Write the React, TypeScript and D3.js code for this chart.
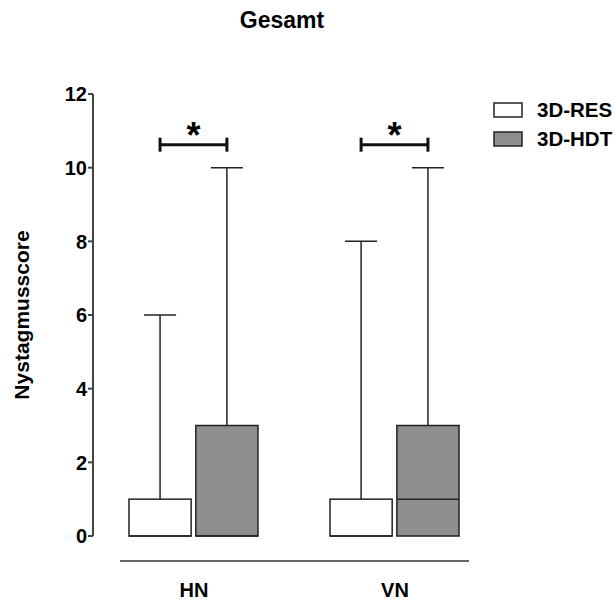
import React from 'react';
import * as d3 from 'd3';

const groups = ['HN', 'VN'];
const seriesNames = ['3D-RES', '3D-HDT'];
// [min, q1, median, q3, max] per group
const resStats = [
  [0, 0, 0, 1, 6],
  [0, 0, 0, 1, 8],
];
const hdtStats = [
  [0, 0, 0, 3, 10],
  [0, 0, 1, 3, 10],
];
const yTicks = [0, 2, 4, 6, 8, 10, 12];
const fills = ['#ffffff', '#8e8e8e'];

const font = 'Arial, "Liberation Sans", Helvetica, sans-serif';

export default function App() {
  const y = d3.scaleLinear().domain([0, 12]).range([536, 94]);
  const x = d3.scalePoint<string>().domain(groups).range([120, 469]).padding(0.368);
  const sub = d3.scaleBand<string>().domain(seriesNames).range([-65, 64]).paddingInner(0.07);
  const bw = sub.bandwidth();
  const capHalf = 16;

  const statsBySeries = [resStats, hdtStats];

  return (
    <svg width={615} height={602} style={{ position: 'absolute', left: 0, top: 0 }} fontFamily={font}>
      <rect width={615} height={602} fill="#fff" />
      <text x={282} y={28} textAnchor="middle" fontWeight="bold" fontSize={23}>Gesamt</text>

      {/* y axis */}
      <line x1={93} x2={93} y1={y(12)} y2={y(0)} stroke="#444" strokeWidth={2} />
      {yTicks.map(t => (
        <g key={t}>
          <line x1={88} x2={93} y1={y(t)} y2={y(t)} stroke="#444" strokeWidth={2} />
          <text x={87} y={y(t)} dy="0.36em" textAnchor="end" fontWeight="bold" fontSize={20}>{t}</text>
        </g>
      ))}
      <text transform={`translate(29,${(y(0) + y(12)) / 2}) rotate(-90)`} textAnchor="middle" fontWeight="bold" fontSize={21}>Nystagmusscore</text>

      {/* x axis */}
      <line x1={120} x2={469} y1={561} y2={561} stroke="#333" strokeWidth={1.5} />
      {groups.map(g => (
        <text key={g} x={x(g)} y={597} textAnchor="middle" fontWeight="bold" fontSize={20}>{g}</text>
      ))}

      {/* boxes */}
      {groups.map((g, gi) => seriesNames.map((s, si) => {
        const [mn, q1, med, q3, mx] = statsBySeries[si][gi];
        const x0 = (x(g) as number) + (sub(s) as number);
        const cx = x0 + bw / 2;
        return (
          <g key={g + s} stroke="#222" strokeWidth={1.5}>
            <line x1={cx} x2={cx} y1={y(q3)} y2={y(mx)} />
            <line x1={cx - capHalf} x2={cx + capHalf} y1={y(mx)} y2={y(mx)} />
            <line x1={cx} x2={cx} y1={y(q1)} y2={y(mn)} />
            <rect x={x0} y={y(q3)} width={bw} height={y(q1) - y(q3)} fill={fills[si]} />
            <line x1={x0} x2={x0 + bw} y1={y(med)} y2={y(med)} />
          </g>
        );
      }))}

      {/* significance brackets */}
      {groups.map(g => {
        const c1 = (x(g) as number) + (sub(seriesNames[0]) as number) + bw / 2;
        const c2 = (x(g) as number) + (sub(seriesNames[1]) as number) + bw / 2;
        const by = y(10) - 23;
        return (
          <g key={'sig' + g}>
            <line x1={c1} x2={c2} y1={by} y2={by} stroke="#111" strokeWidth={3} />
            <line x1={c1} x2={c1} y1={by - 7} y2={by + 7} stroke="#111" strokeWidth={3} />
            <line x1={c2} x2={c2} y1={by - 7} y2={by + 7} stroke="#111" strokeWidth={3} />
            <text x={(c1 + c2) / 2} y={by + 3} textAnchor="middle" fontWeight="bold" fontSize={36}>*</text>
          </g>
        );
      })}

      {/* legend */}
      {seriesNames.map((s, i) => (
        <g key={'leg' + s} transform={`translate(494,${103 + i * 29})`}>
          <rect width={28} height={14} fill={fills[i]} stroke="#222" strokeWidth={1.5} />
          <text x={43} y={7} dy="0.36em" fontWeight="bold" fontSize={20.5}>{s}</text>
        </g>
      ))}
    </svg>
  );
}
